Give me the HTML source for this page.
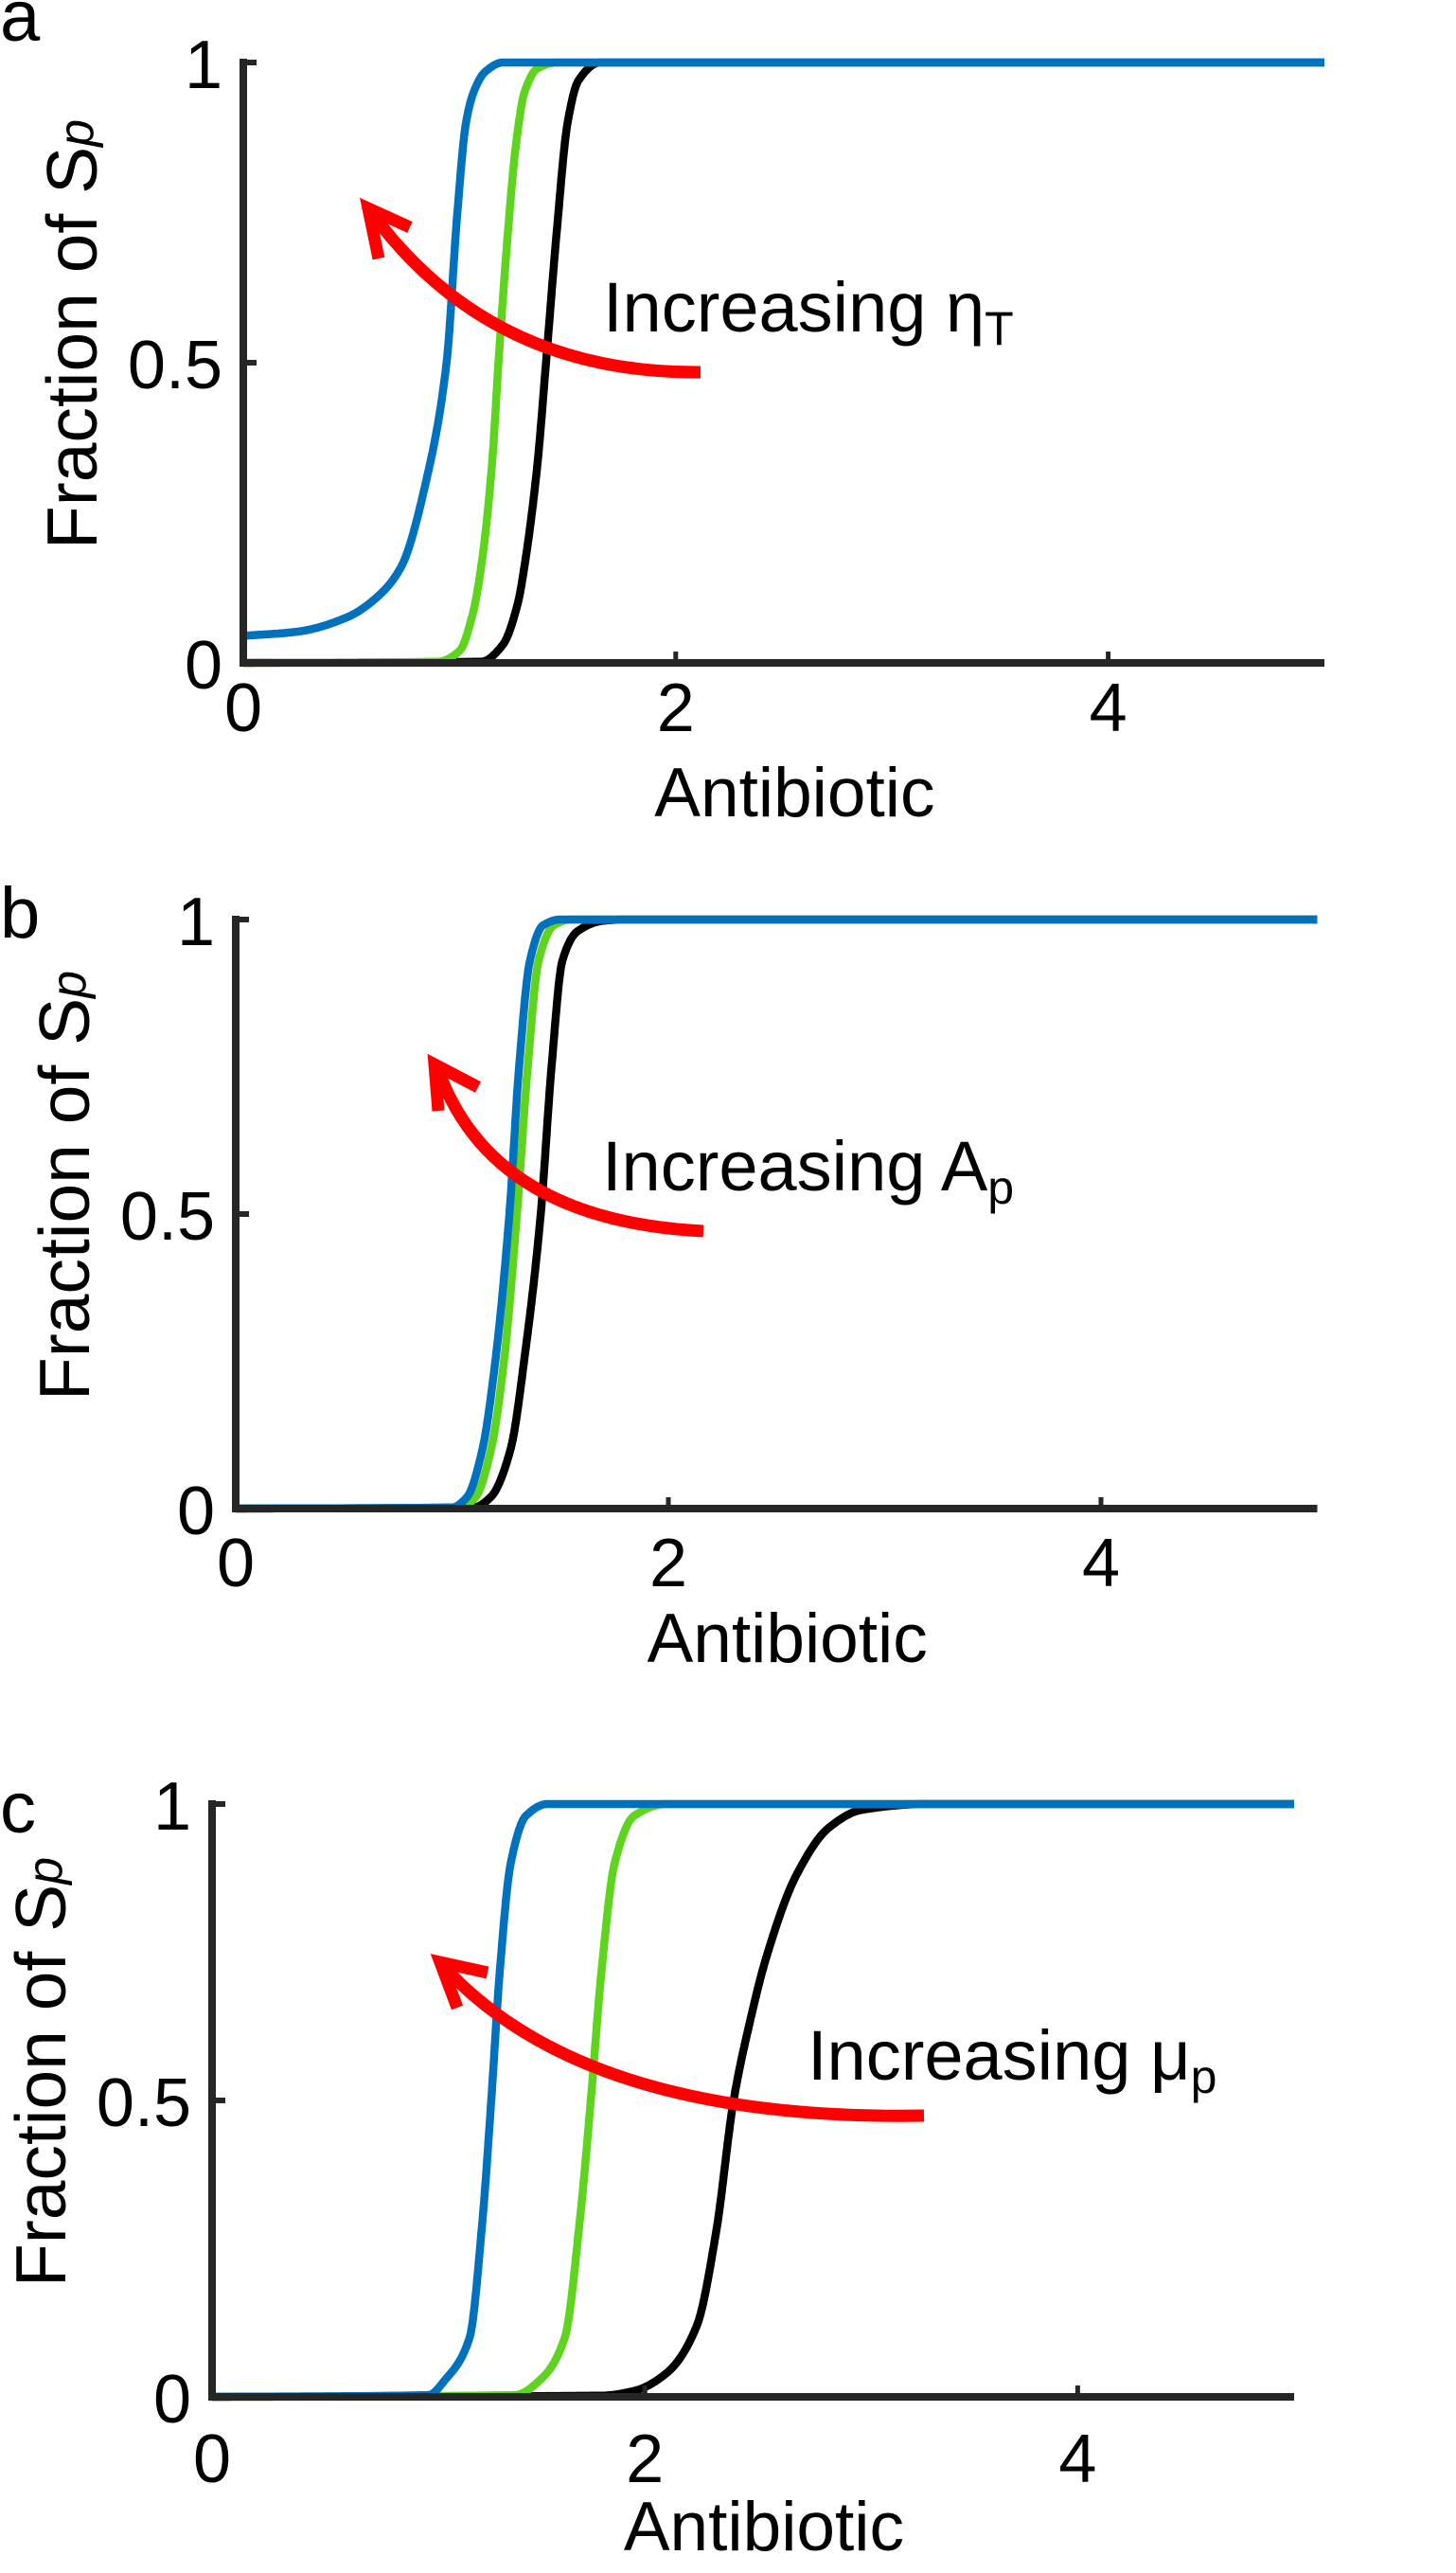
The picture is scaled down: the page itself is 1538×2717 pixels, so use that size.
<!DOCTYPE html>
<html><head><meta charset="utf-8"><style>
html,body{margin:0;padding:0;background:#fff}
svg{display:block}
text{font-family:"Liberation Sans",Arial,sans-serif;fill:#000}
</style></head><body>
<svg id="s" width="1538" height="2717" viewBox="0 0 1538 2717" xmlns="http://www.w3.org/2000/svg">
<rect width="1538" height="2717" fill="#fff"/>
<g id="plots"></g>
<text x="0" y="43" font-size="76">a</text>
<text x="0" y="990" font-size="76">b</text>
<text x="0" y="1935" font-size="76">c</text>
<text x="637" y="350" font-size="74">Increasing η<tspan font-size="50" dy="14">T</tspan></text>
<text x="636" y="1257" font-size="74">Increasing A<tspan font-size="50" dy="14">p</tspan></text>
<text x="853" y="2196" font-size="74">Increasing μ<tspan font-size="50" dy="14">p</tspan></text>
<g fill="none" stroke="#ff0000" stroke-width="13" stroke-linejoin="miter" stroke-linecap="butt">
<path d="M740,393 Q520,395 395,228"/>
<path d="M433,240 L389,220 L400,273"/>
<path d="M743,1300 Q520,1289 463,1130"/>
<path d="M505,1148 L459,1124 L463,1173"/>
<path d="M976,2234 Q620,2240 470,2078"/>
<path d="M515,2083 L465,2072 L483,2120"/>
</g>
</svg>
<script>
var NS="http://www.w3.org/2000/svg";
var g=document.getElementById("plots");
function el(n,a,t){var e=document.createElementNS(NS,n);for(var k in a)e.setAttribute(k,a[k]);if(t!==undefined)e.textContent=t;g.appendChild(e);return e;}
function pchip(pts){var n=pts.length,h=[],d=[],m=[];for(var i=0;i<n-1;i++){h[i]=pts[i+1][0]-pts[i][0];d[i]=(pts[i+1][1]-pts[i][1])/h[i];}
 m[0]=d[0];m[n-1]=d[n-2];for(i=1;i<n-1;i++){if(d[i-1]*d[i]<=0)m[i]=0;else{var w1=2*h[i]+h[i-1],w2=h[i]+2*h[i-1];m[i]=(w1+w2)/(w1/d[i-1]+w2/d[i]);}}
 return function(x){if(x<=pts[0][0])return pts[0][1];for(var i=0;i<n-1;i++){if(x<=pts[i+1][0]){var t=(x-pts[i][0])/h[i],t2=t*t,t3=t2*t;
  return (2*t3-3*t2+1)*pts[i][1]+(t3-2*t2+t)*h[i]*m[i]+(-2*t3+3*t2)*pts[i+1][1]+(t3-t2)*h[i]*m[i+1];}}return pts[n-1][1];};}
function panel(P){
 var X=function(v){return P.x0+v*P.ux;},Y=function(v){return P.y0-v*P.uy;};
 var curves=[["#000000",P.k],["#5fd41e",P.g],["#0072bd",P.b]];
 curves.forEach(function(c){var f=pchip(c[1]);var d="";for(var i=0;i<=2000;i++){var x=i*5/2000;var y=f(x);d+=(i?"L":"M")+X(x).toFixed(1)+","+Y(y).toFixed(1);}
  el("path",{d:d,fill:"none",stroke:c[0],"stroke-width":8.5,"stroke-linejoin":"round"});});
 var ax="#262626";
 el("path",{d:"M"+X(0)+","+(Y(1)-4)+" L"+X(0)+","+(Y(0)+4),stroke:ax,"stroke-width":8,fill:"none"});
 el("path",{d:"M"+(X(0)-4)+","+Y(0)+" L"+X(5)+","+Y(0),stroke:ax,"stroke-width":8,fill:"none"});
 [0.5,1].forEach(function(v){el("path",{d:"M"+X(0)+","+Y(v)+" h14",stroke:ax,"stroke-width":6});});
 [2,4].forEach(function(v){el("path",{d:"M"+X(v)+","+Y(0)+" v-12",stroke:ax,"stroke-width":5});});
 [[0,"0"],[0.5,"0.5"],[1,"1"]].forEach(function(t){el("text",{x:X(0)-22,y:Y(t[0])+27,"font-size":72,"text-anchor":"end"},t[1]);});
 [0,2,4].forEach(function(v){el("text",{x:X(v),y:Y(0)+P.xl,"font-size":72,"text-anchor":"middle"},String(v));});
 el("text",{x:X(2.55),y:Y(0)+162,"font-size":73,"text-anchor":"middle"},"Antibiotic");
 var t=el("text",{transform:"translate("+(X(0)-155)+","+(Y(0.5)-30)+") rotate(-90)","font-size":75,"text-anchor":"middle"});
 t.innerHTML='Fraction of S<tspan font-size="52" font-style="italic" dy="-4">p</tspan>';
}
panel({x0:257,y0:700,ux:228.4,uy:634,xl:72,
 b:[[0,0.045],[0.25,0.052],[0.48,0.076],[0.62,0.11],[0.73,0.16],[0.85,0.31],[0.94,0.5],[0.99,0.75],[1.03,0.9],[1.07,0.955],[1.12,0.985],[1.2,1],[5,1]],
 g:[[0,0],[0.9,0.002],[1.0,0.02],[1.06,0.08],[1.1,0.16],[1.15,0.33],[1.18,0.5],[1.22,0.7],[1.26,0.86],[1.3,0.95],[1.36,0.99],[1.45,1],[5,1]],
 k:[[0,0],[1.1,0.002],[1.2,0.03],[1.27,0.1],[1.3,0.16],[1.36,0.33],[1.40,0.5],[1.45,0.72],[1.5,0.9],[1.55,0.97],[1.65,1],[5,1]]});
panel({x0:249,y0:1593,ux:228.5,uy:622,xl:82,
 b:[[0,0],[1.0,0.002],[1.07,0.02],[1.14,0.1],[1.2,0.25],[1.265,0.5],[1.31,0.75],[1.36,0.93],[1.42,0.99],[1.5,1],[5,1]],
 g:[[0,0],[1.04,0.002],[1.11,0.02],[1.18,0.1],[1.24,0.25],[1.30,0.5],[1.35,0.75],[1.40,0.93],[1.47,0.99],[1.55,1],[5,1]],
 k:[[0,0],[1.1,0.002],[1.18,0.02],[1.27,0.1],[1.34,0.27],[1.41,0.5],[1.46,0.75],[1.51,0.93],[1.58,0.98],[1.7,0.998],[1.8,1],[5,1]]});
panel({x0:224,y0:2531,ux:228.6,uy:626,xl:90,
 b:[[0,0],[1.0,0.003],[1.08,0.03],[1.19,0.1],[1.25,0.3],[1.29,0.5],[1.33,0.72],[1.38,0.9],[1.45,0.98],[1.55,1],[5,1]],
 g:[[0,0],[1.4,0.003],[1.52,0.03],[1.63,0.1],[1.7,0.3],[1.75,0.5],[1.8,0.72],[1.86,0.9],[1.95,0.98],[2.1,1],[5,1]],
 k:[[0,0],[1.8,0.002],[1.95,0.01],[2.1,0.04],[2.24,0.12],[2.33,0.28],[2.41,0.5],[2.49,0.64],[2.56,0.74],[2.7,0.88],[2.85,0.96],[3.0,0.99],[3.3,1],[5,1]]});
</script>
</body></html>
